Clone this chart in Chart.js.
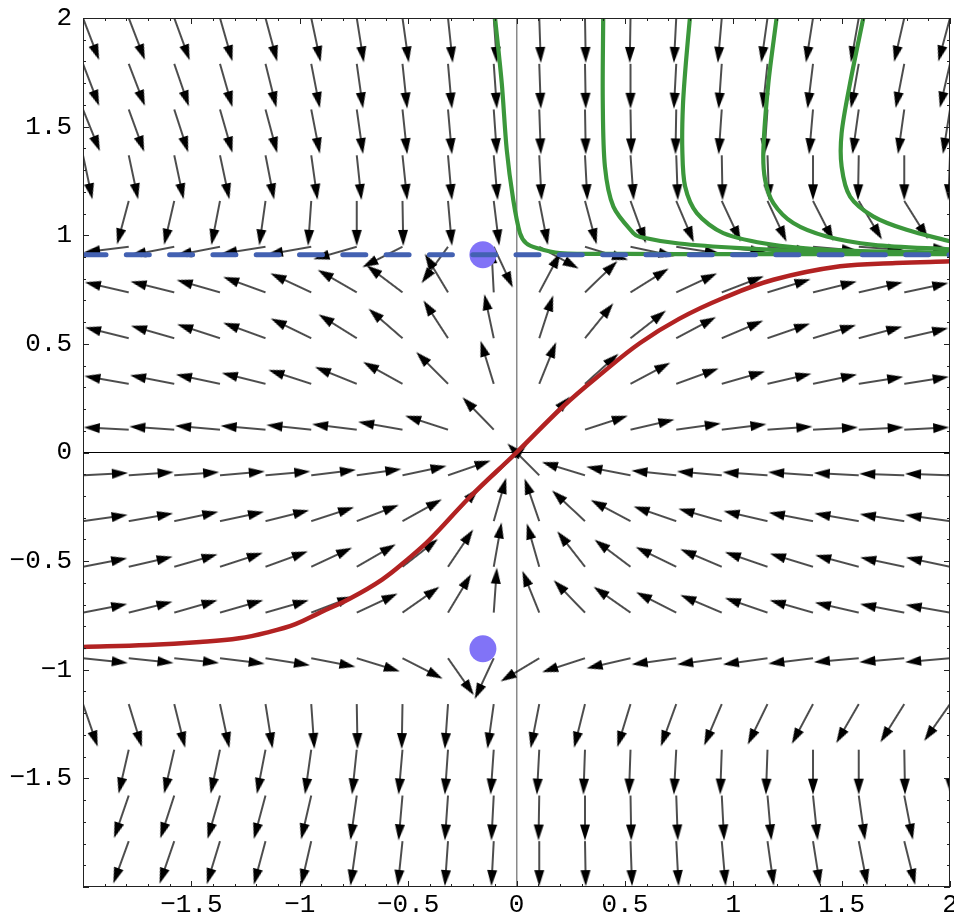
<!DOCTYPE html>
<html>
<head>
<meta charset="utf-8">
<title>Phase portrait</title>
<script src="https://cdn.jsdelivr.net/npm/chart.js@4.4.1/dist/chart.umd.min.js"></script>
<style>
    html, body { margin: 0; padding: 0; background: #fff; }
    #wrap { width: 954px; height: 918px; }
</style>
</head>
<body>
<div id="wrap"><canvas id="plot" width="954" height="918"></canvas></div>
<script>
// grid of the vector field (arrow tails)
const gridX = [-2, -1.789, -1.579, -1.368, -1.158, -0.947, -0.737, -0.526, -0.316, -0.105,
               0.105, 0.316, 0.526, 0.737, 0.947, 1.158, 1.368, 1.579, 1.789, 2];
const gridY = [2, 1.789, 1.579, 1.368, 1.158, 0.947, 0.737, 0.526, 0.316, 0.105,
               -0.105, -0.316, -0.526, -0.737, -0.947, -1.158, -1.368, -1.579, -1.789, -2];

// arrow direction in degrees (counter-clockwise from +x), one row per gridY value
const arrowAngles = [
    [-69, -69, -70, -74, -75, -78, -81, -82, -84, -86, -88, -89, -91, -93, -95, -98, -99, -100, -103, -105],
    [-69, -69, -71, -74, -76, -79, -82, -84, -85, -86, -88, -89, -90, -93, -94, -96, -97, -100, -101, -103],
    [-68, -70, -72, -74, -75, -79, -82, -84, -85, -86, -88, -89, -89, -91, -94, -94, -95, -98, -98, -99],
    [-78, -78, -78, -78, -79, -82, -84, -84, -85, -85, -87, -87, -86, -88, -89, -88, -90, -91, -90, -92],
    [-106, -105, -103, -101, -98, -94, -90, -89, -85, -83, -79, -75, -70, -67, -65, -65, -63, -59, -58, -55],
    [187, 187, 191, 191, 189, 190, 196, 207, 234, -65, -29, -17, -12, -9, -7, -6, -5, -4, -3, -2],
    [168, 167, 166, 164, 160, 155, 150, 143, 121, 93, 62, 44, 32, 25, 21, 17, 14, 13, 12, 11],
    [166, 166, 164, 162, 160, 154, 148, 139, 123, 102, 72, 51, 38, 28, 23, 19, 17, 15, 13, 12],
    [171, 170, 169, 168, 166, 162, 158, 151, 135, 107, 68, 42, 28, 20, 16, 13, 12, 9, 9, 9],
    [177, 177, 176, 175, 175, 174, 173, 170, 162, 134, 47, 18, 13, 8, 7, 4, 3, 3, 3, 3],
    [3, 4, 4, 5, 5, 7, 8, 12, 19, 43, 135, 163, 169, 174, 175, 176, 176, 177, 178, 178],
    [8, 10, 12, 12, 14, 18, 21, 29, 47, 74, 109, 137, 152, 161, 164, 167, 169, 170, 171, 172],
    [11, 13, 16, 18, 20, 25, 30, 38, 56, 80, 106, 128, 143, 154, 157, 161, 163, 165, 168, 168],
    [11, 14, 16, 16, 16, 21, 25, 35, 59, 86, 112, 134, 145, 153, 157, 161, 164, 167, 169, 170],
    [-6, -6, -6, -7, -9, -11, -17, -27, -55, -115, -149, -162, -167, -172, -172, -172, -173, -175, -175, -175],
    [-71, -73, -76, -78, -81, -86, -89, -91, -94, -98, -101, -104, -107, -110, -113, -116, -118, -120, -122, -125],
    [-104, -103, -103, -102, -101, -98, -96, -95, -94, -94, -93, -92, -92, -93, -92, -92, -90, -90, -89, -89],
    [-110, -109, -108, -106, -105, -103, -98, -95, -94, -93, -91, -90, -89, -88, -87, -85, -84, -82, -79, -78],
    [-111, -110, -109, -107, -105, -103, -98, -96, -94, -93, -90, -89, -88, -87, -85, -82, -81, -79, -76, -75],
    [-112, -111, -110, -108, -106, -104, -99, -97, -95, -93, -90, -89, -88, -86, -84, -81, -80, -77, -74, -72]
];

// red trajectory through the origin
const redX = [-2, -1.7, -1.46, -1.28, -1.153, -1.02, -0.907, -0.768, -0.62, -0.5, -0.399, -0.215, 0, 0.216, 0.4, 0.57, 0.75, 0.954, 1.185, 1.493, 1.75, 2];
const redY = [-0.895, -0.886, -0.872, -0.855, -0.829, -0.79, -0.737, -0.672, -0.585, -0.49, -0.4, -0.205, 0, 0.213, 0.37, 0.504, 0.615, 0.711, 0.795, 0.857, 0.872, 0.88];

// green trajectories coming down from the top edge
const green1X = [-0.099, -0.068, -0.045, -0.015, 0.016, 0.045, 0.093, 0.2, 0.5, 1, 1.5, 2];
const green1Y = [2, 1.7, 1.393, 1.163, 1.01, 0.963, 0.941, 0.918, 0.914, 0.913, 0.913, 0.913];
const green2X = [0.4, 0.398, 0.408, 0.447, 0.539, 0.57, 0.75, 1.031, 1.49, 2];
const green2Y = [2, 1.623, 1.316, 1.132, 1.01, 0.992, 0.962, 0.941, 0.921, 0.915];
const green3X = [0.8, 0.782, 0.768, 0.765, 0.778, 0.832, 0.954, 1.185, 1.493, 2];
const green3Y = [2, 1.8, 1.6, 1.393, 1.224, 1.102, 1.01, 0.956, 0.93, 0.92];
const green4X = [1.2, 1.162, 1.139, 1.147, 1.185, 1.277, 1.431, 1.647, 2];
const green4Y = [2, 1.7, 1.393, 1.255, 1.148, 1.056, 0.994, 0.956, 0.935];
const green5X = [1.6, 1.539, 1.5, 1.5, 1.539, 1.647, 1.8, 2];
const green5Y = [2, 1.7, 1.47, 1.316, 1.178, 1.086, 1.025, 0.972];

// fixed points and the dashed invariant line
const fixedX = [-0.155, -0.155];
const fixedY = [0.91, -0.903];
const dashedY = 0.91;

const xTickLabels = ['', '\u22121.5', '\u22121', '\u22120.5', '0', '0.5', '1', '1.5', '2'];
const yTickLabels = ['', '\u22121.5', '\u22121', '\u22120.5', '0', '0.5', '1', '1.5', '2'];

// arrow glyph, tail at the centre of the image so rotation pivots on it
const ARROW_LEN = 45, HEAD_LEN = 16, HEAD_HALF = 5;
const arrowImg = document.createElement('canvas');
arrowImg.width = arrowImg.height = 2 * ARROW_LEN + 4;
(function () {
    const c = arrowImg.getContext('2d');
    const m = ARROW_LEN + 2;
    c.strokeStyle = '#000';
    c.fillStyle = '#000';
    c.lineWidth = 1.4;
    c.beginPath();
    c.moveTo(m, m);
    c.lineTo(m + ARROW_LEN - HEAD_LEN + 2, m);
    c.stroke();
    c.beginPath();
    c.moveTo(m + ARROW_LEN, m);
    c.lineTo(m + ARROW_LEN - HEAD_LEN, m - HEAD_HALF);
    c.lineTo(m + ARROW_LEN - HEAD_LEN, m + HEAD_HALF);
    c.closePath();
    c.fill();
})();

const arrowPoints = [];
gridY.forEach((yv, j) => {
    gridX.forEach((xv, i) => {
        arrowPoints.push({ x: xv, y: yv, angle: arrowAngles[j][i] });
    });
});

function zip(xs, ys) {
    return xs.map((v, i) => ({ x: v, y: ys[i] }));
}

function curve(xs, ys, color, order) {
    return {
        data: zip(xs, ys),
        showLine: true,
        borderColor: color,
        borderWidth: 4.2,
        pointRadius: 0,
        tension: 0.3,
        fill: false,
        clip: 0,
        order: order
    };
}

const frameTicks = {
    id: 'frameTicks',
    afterDatasetsDraw(chart) {
        const { ctx, chartArea: a, scales } = chart;
        ctx.save();
        ctx.strokeStyle = '#222';
        ctx.lineWidth = 1;
        ctx.strokeRect(a.left + 0.5, a.top + 0.5, a.right - a.left - 1, a.bottom - a.top - 1);
        ctx.beginPath();
        for (let k = -20; k <= 20; k++) {
            const v = k / 10;
            const len = k % 5 === 0 ? 6 : 3;
            const px = Math.round(scales.x.getPixelForValue(v)) + 0.5;
            const py = Math.round(scales.y.getPixelForValue(v)) + 0.5;
            ctx.moveTo(px, a.bottom); ctx.lineTo(px, a.bottom - len);
            ctx.moveTo(px, a.top); ctx.lineTo(px, a.top + len);
            ctx.moveTo(a.left, py); ctx.lineTo(a.left + len, py);
            ctx.moveTo(a.right, py); ctx.lineTo(a.right - len, py);
        }
        ctx.stroke();
        ctx.restore();
    }
};

const tickFont = { family: 'Liberation Mono', size: 26 };

const redCurve = curve(redX, redY, '#b22222', 3);
redCurve.tension = 0.4;
redCurve.borderWidth = 4.5;

new Chart(document.getElementById('plot'), {
    type: 'scatter',
    data: {
        datasets: [
            {
                data: [{ x: -2, y: dashedY }, { x: 2, y: dashedY }],
                showLine: true,
                borderColor: '#4361b2',
                borderWidth: 5,
                borderDash: [23, 20.3],
                borderCapStyle: 'round',
                pointRadius: 0,
                clip: 0,
                order: 0
            },
            {
                data: zip(fixedX, fixedY),
                pointRadius: 13.5,
                pointBackgroundColor: '#8173f7',
                pointBorderWidth: 0,
                order: 1
            },
            curve(green1X, green1Y, '#3b973b', 2),
            curve(green2X, green2Y, '#3b973b', 2),
            curve(green3X, green3Y, '#3b973b', 2),
            curve(green4X, green4Y, '#3b973b', 2),
            curve(green5X, green5Y, '#3b973b', 2),
            redCurve,
            {
                data: arrowPoints,
                pointStyle: arrowImg,
                pointRadius: 3,
                pointRotation: ctx => -ctx.raw.angle,
                clip: 0,
                order: 5
            }
        ]
    },
    options: {
        responsive: false,
        animation: false,
        events: [],
        layout: { autoPadding: false, padding: { top: 18, right: 4, bottom: 0, left: 0 } },
        plugins: {
            legend: { display: false },
            tooltip: { enabled: false }
        },
        scales: {
            x: {
                type: 'linear',
                min: -2,
                max: 2,
                border: { display: false },
                grid: {
                    drawTicks: false,
                    lineWidth: 1.5,
                    color: c => (c.tick && c.tick.value === 0) ? '#8a8a8a' : 'rgba(0,0,0,0)'
                },
                ticks: {
                    stepSize: 0.5,
                    padding: 3,
                    autoSkip: false,
                    maxRotation: 0,
                    color: '#000',
                    font: tickFont,
                    callback: (v, i) => xTickLabels[i]
                },
                afterFit: s => { s.height = 31; s.paddingLeft = 0; s.paddingRight = 0; }
            },
            y: {
                type: 'linear',
                min: -2,
                max: 2,
                border: { display: false },
                grid: {
                    drawTicks: false,
                    lineWidth: 1,
                    color: c => (c.tick && c.tick.value === 0) ? '#000' : 'rgba(0,0,0,0)'
                },
                ticks: {
                    stepSize: 0.5,
                    padding: 11,
                    autoSkip: false,
                    color: '#000',
                    font: tickFont,
                    callback: (v, i) => yTickLabels[i]
                },
                afterFit: s => { s.width = 83; s.paddingTop = 0; s.paddingBottom = 0; }
            }
        }
    },
    plugins: [frameTicks]
});
</script>
</body>
</html>
